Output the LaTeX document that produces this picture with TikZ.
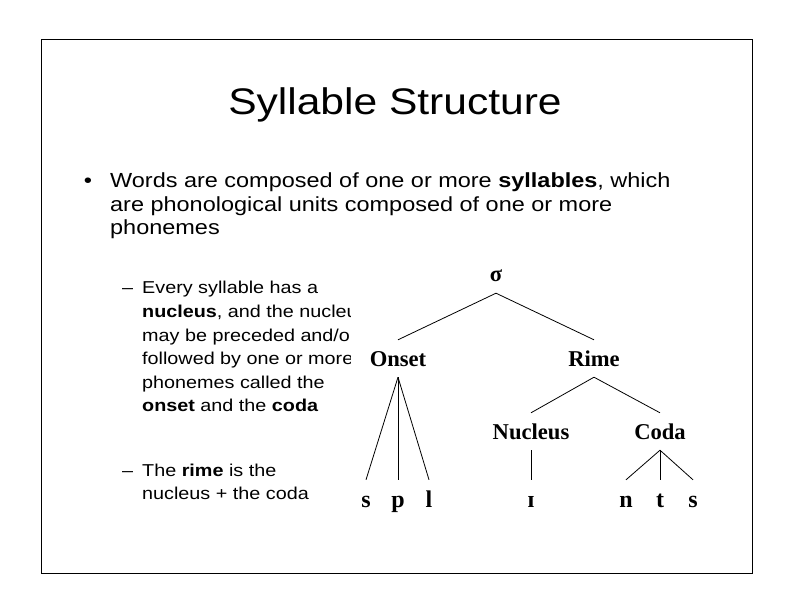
\documentclass[tikz,border=0pt]{standalone}
\usepackage{fontspec}
\setmainfont{Liberation Sans}
\newfontfamily\slidefont[FakeStretch=1.15]{Liberation Sans}
\newfontfamily\treefont{Liberation Serif}
\usetikzlibrary{positioning}

\begin{document}
\begin{tikzpicture}[
  x=1pt, y=-1pt,
  every node/.style={inner sep=0pt},
  titletext/.style={anchor=base, font=\slidefont\fontsize{37}{44}\selectfont},
  bodytext/.style={anchor=base west, font=\slidefont\fontsize{20.4}{24}\selectfont},
  subtext/.style={anchor=base west, font=\slidefont\fontsize{17.2}{20}\selectfont},
  tlabel/.style={anchor=base, inner ysep=11pt, text height=15pt, text depth=0pt,
    font=\treefont\bfseries\fontsize{22.6}{26}\selectfont},
  leaf/.style={tlabel, inner ysep=12pt, font=\treefont\bfseries\fontsize{24}{28}\selectfont},
  branch/.style={line width=0.8pt},
]
  \useasboundingbox (0,0) rectangle (792,612);
  \draw[line width=1pt] (41,40) rectangle (752,573);

  \node[titletext] (title) at (395,115) {Syllable Structure};

  \node[bodytext, anchor=base] (dot) at (88,188) {\textbullet};
  \node[bodytext] (body1) at (110,188) {Words are composed of one or more \textbf{syllables}, which};
  \node[bodytext] (body2) at (110,211.5) {are phonological units composed of one or more};
  \node[bodytext] (body3) at (110,235) {phonemes};

  \node[subtext] (dash1) at (122,294) {\textendash};
  \foreach \txt [count=\i from 0] in {{Every syllable has a},
      {\textbf{nucleus}, and the nucleus},
      {may be preceded and/or},
      {followed by one or more},
      {phonemes called the},
      {\textbf{onset} and the \textbf{coda}}}
    \node[subtext] (sub\i) at (142,294+23.5*\i) {\txt};

  \node[subtext] (dash2) at (122,476) {\textendash};
  \node[subtext] (rime1) at (142,476) {The \textbf{rime} is the};
  \node[subtext] (rime2) at (142,499.5) {nucleus + the coda};

  \fill[white] (351,262) rectangle (722,522);

  \node[tlabel] (sigma) at (496,282) {σ};
  \node[tlabel] (onset) at (398,366) {Onset};
  \node[tlabel] (rime) at (594,366) {Rime};
  \node[tlabel] (nucleus) at (531,439) {Nucleus};
  \node[tlabel] (coda) at (660,439) {Coda};

  \node[leaf] (s1) at (366,507) {s};
  \node[leaf] (p) at (398,507) {p};
  \node[leaf] (l) at (429,507) {l};
  \node[leaf] (ih) at (531,507) {ɪ};
  \node[leaf] (n) at (626,507) {n};
  \node[leaf] (t) at (660,507) {t};
  \node[leaf] (s2) at (693,507) {s};

  \draw[branch] (sigma.south) -- (onset.north);
  \draw[branch] (sigma.south) -- (rime.north);
  \draw[branch] (onset.south) -- (s1.north);
  \draw[branch] (onset.south) -- (p.north);
  \draw[branch] (onset.south) -- (l.north);
  \draw[branch] (rime.south) -- (nucleus.north);
  \draw[branch] (rime.south) -- (coda.north);
  \draw[branch] (nucleus.south) -- (ih.north);
  \draw[branch] (coda.south) -- (n.north);
  \draw[branch] (coda.south) -- (t.north);
  \draw[branch] (coda.south) -- (s2.north);
\end{tikzpicture}
\end{document}
